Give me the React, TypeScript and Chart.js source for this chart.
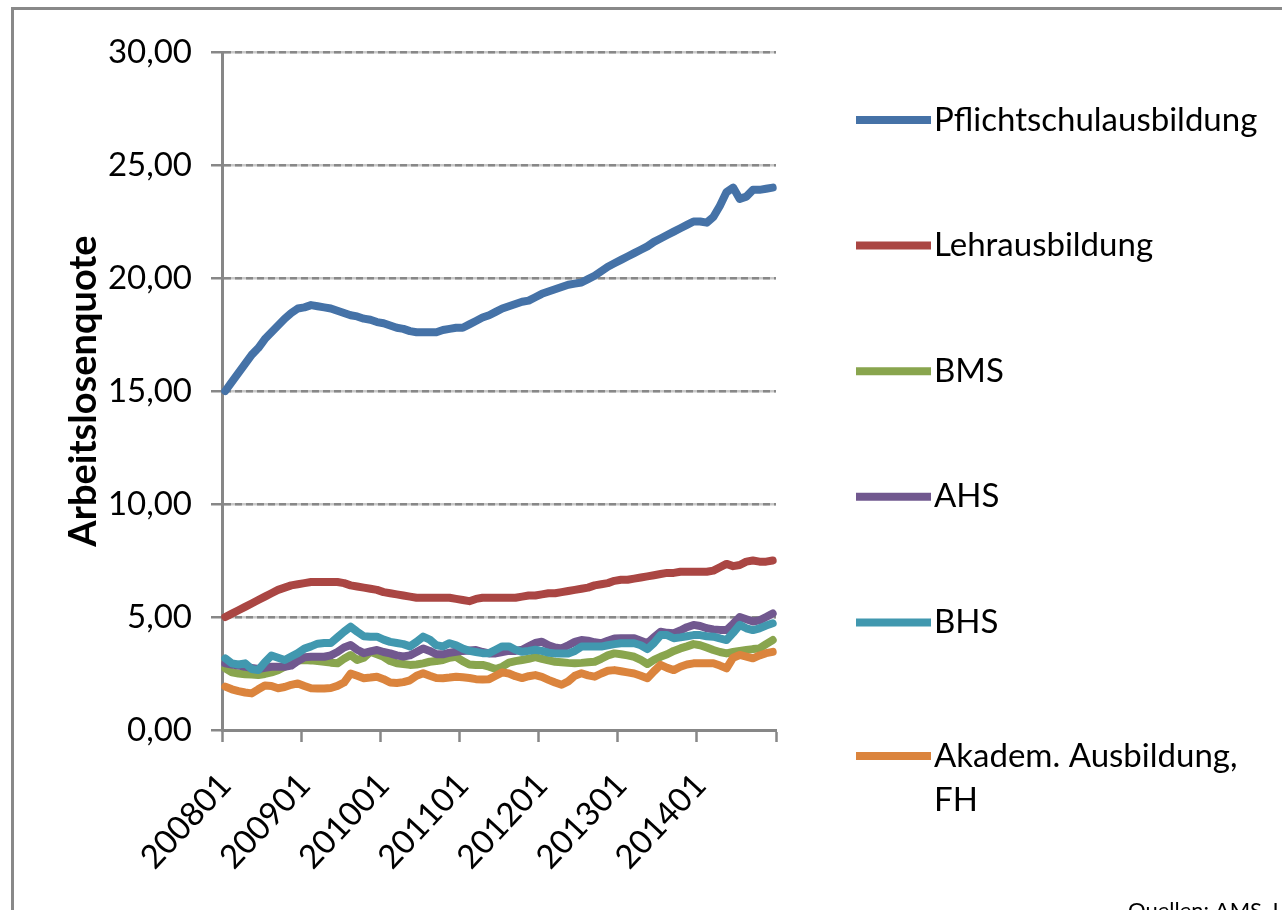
import React, { useEffect, useRef } from "react";
import { Chart, registerables } from "chart.js";

Chart.register(...registerables);

const YEARS = ["2008", "2009", "2010", "2011", "2012", "2013", "2014"];
const MONTHS_OF_YEAR = ["01", "02", "03", "04", "05", "06", "07", "08", "09", "10", "11", "12"];
const CATEGORIES: string[] = YEARS.flatMap((y) => MONTHS_OF_YEAR.map((m) => y + m));
const TICK_LABELS = ["200801", "200901", "201001", "201101", "201201", "201301", "201401"];

const PFLICHTSCHUL = [
  15.0, 15.4, 15.8, 16.2, 16.6, 16.9, 17.3, 17.6, 17.9, 18.2, 18.45, 18.65,
  18.7, 18.8, 18.75, 18.7, 18.65, 18.55, 18.45, 18.35, 18.3, 18.2, 18.15, 18.05,
  18.0, 17.9, 17.8, 17.75, 17.65, 17.6, 17.6, 17.6, 17.6, 17.7, 17.75, 17.8,
  17.8, 17.95, 18.1, 18.25, 18.35, 18.5, 18.65, 18.75, 18.85, 18.95, 19.0, 19.15,
  19.3, 19.4, 19.5, 19.6, 19.7, 19.75, 19.8, 19.95, 20.1, 20.3, 20.5, 20.65,
  20.8, 20.95, 21.1, 21.25, 21.4, 21.6, 21.75, 21.9, 22.05, 22.2, 22.35, 22.5,
  22.5, 22.45, 22.7, 23.2, 23.8, 24.0, 23.5, 23.6, 23.9, 23.9, 23.95, 24.0,
];
const LEHR = [
  5.0, 5.15, 5.3, 5.45, 5.6, 5.75, 5.9, 6.05, 6.2, 6.3, 6.4, 6.45,
  6.5, 6.55, 6.55, 6.55, 6.55, 6.55, 6.5, 6.4, 6.35, 6.3, 6.25, 6.2,
  6.1, 6.05, 6.0, 5.95, 5.9, 5.85, 5.85, 5.85, 5.85, 5.85, 5.85, 5.8,
  5.75, 5.7, 5.8, 5.85, 5.85, 5.85, 5.85, 5.85, 5.85, 5.9, 5.95, 5.95,
  6.0, 6.05, 6.05, 6.1, 6.15, 6.2, 6.25, 6.3, 6.4, 6.45, 6.5, 6.6,
  6.65, 6.65, 6.7, 6.75, 6.8, 6.85, 6.9, 6.95, 6.95, 7.0, 7.0, 7.0,
  7.0, 7.0, 7.05, 7.2, 7.35, 7.25, 7.3, 7.45, 7.5, 7.45, 7.45, 7.5,
];
const BMS = [
  2.73, 2.55, 2.5, 2.47, 2.45, 2.43, 2.48, 2.55, 2.65, 2.8, 2.95, 3.08,
  3.1, 3.08, 3.05, 3.02, 2.98, 2.95, 3.15, 3.32, 3.1, 3.2, 3.46, 3.35,
  3.24, 3.05, 2.95, 2.92, 2.88, 2.9, 2.95, 3.02, 3.05, 3.1, 3.2, 3.24,
  3.05, 2.9, 2.88, 2.88, 2.8, 2.7, 2.8, 2.98, 3.05, 3.1, 3.15, 3.22,
  3.15, 3.08, 3.02, 3.0, 2.97, 2.95, 2.97, 3.0, 3.02, 3.15, 3.3, 3.39,
  3.35, 3.3, 3.24, 3.1, 2.92, 3.1, 3.24, 3.35, 3.5, 3.61, 3.7, 3.8,
  3.75, 3.65, 3.54, 3.45, 3.39, 3.45, 3.5, 3.54, 3.58, 3.61, 3.8, 3.98,
];
const AHS = [
  2.95, 2.9, 2.85, 2.8, 2.75, 2.7, 2.75, 2.8, 2.8, 2.8, 2.85, 3.05,
  3.22, 3.24, 3.24, 3.24, 3.3, 3.45, 3.65, 3.76, 3.55, 3.4, 3.48, 3.54,
  3.45, 3.39, 3.3, 3.25, 3.3, 3.45, 3.61, 3.5, 3.35, 3.35, 3.42, 3.46,
  3.5, 3.52, 3.54, 3.45, 3.39, 3.39, 3.45, 3.5, 3.5, 3.55, 3.7, 3.85,
  3.91, 3.75, 3.65, 3.61, 3.75, 3.9, 3.98, 3.95, 3.88, 3.84, 3.95, 4.05,
  4.06, 4.06, 4.06, 3.95, 3.84, 4.1, 4.35, 4.3, 4.28, 4.4, 4.55, 4.65,
  4.6, 4.5, 4.45, 4.43, 4.42, 4.7, 5.0, 4.9, 4.8, 4.85, 5.0, 5.16,
];
const BHS = [
  3.17, 2.95, 2.9, 2.95, 2.7, 2.65, 3.0, 3.3, 3.2, 3.1, 3.25, 3.4,
  3.6, 3.7, 3.82, 3.85, 3.85, 4.1, 4.35, 4.57, 4.35, 4.15, 4.13, 4.13,
  4.0, 3.9, 3.85, 3.8, 3.7, 3.9, 4.13, 4.0, 3.75, 3.7, 3.84, 3.75,
  3.6, 3.5, 3.45, 3.4, 3.4, 3.55, 3.7, 3.7, 3.55, 3.46, 3.5, 3.55,
  3.5, 3.42, 3.39, 3.39, 3.39, 3.5, 3.69, 3.69, 3.69, 3.69, 3.75, 3.8,
  3.84, 3.84, 3.84, 3.75, 3.58, 3.85, 4.2, 4.2, 4.06, 4.1, 4.15, 4.2,
  4.2, 4.15, 4.13, 4.05, 3.98, 4.3, 4.65, 4.5, 4.42, 4.5, 4.62, 4.72,
];
const AKADEM = [
  1.92, 1.8, 1.72, 1.66, 1.62, 1.8, 1.97, 1.95, 1.85, 1.9, 2.0, 2.06,
  1.95, 1.85, 1.84, 1.84, 1.86, 1.95, 2.1, 2.5, 2.4, 2.29, 2.32, 2.36,
  2.25, 2.1, 2.08, 2.12, 2.2, 2.4, 2.51, 2.4, 2.3, 2.29, 2.32, 2.36,
  2.33, 2.3, 2.25, 2.23, 2.25, 2.4, 2.55, 2.5, 2.38, 2.3, 2.38, 2.43,
  2.35, 2.22, 2.1, 2.0, 2.15, 2.4, 2.51, 2.42, 2.36, 2.5, 2.62, 2.65,
  2.6, 2.55, 2.5, 2.4, 2.29, 2.6, 2.88, 2.75, 2.65, 2.8, 2.9, 2.95,
  2.95, 2.95, 2.95, 2.85, 2.73, 3.2, 3.32, 3.25, 3.17, 3.3, 3.4, 3.46,
];

const SERIES_NAMES = [
  "Pflichtschulausbildung",
  "Lehrausbildung",
  "BMS",
  "AHS",
  "BHS",
  "Akadem. Ausbildung, FH",
];
const SERIES_LEGEND_LINES = [
  ["Pflichtschulausbildung"],
  ["Lehrausbildung"],
  ["BMS"],
  ["AHS"],
  ["BHS"],
  ["Akadem. Ausbildung,", "FH"],
];
const SERIES_DATA = [PFLICHTSCHUL, LEHR, BMS, AHS, BHS, AKADEM];
const SERIES_COLORS = ["#4572A7", "#AA4643", "#89A54E", "#71588F", "#4198AF", "#DB843D"];

const Y_MIN = 0;
const Y_MAX = 30;
const Y_STEP = 5;

const AXIS_COLOR = "#878787";
const FONT = "Lato";

const legendPlugin = {
  id: "customLegend",
  afterDraw(chart: any) {
    const ctx = chart.ctx as CanvasRenderingContext2D;
    const top = 120;
    const gap = 125.6;
    ctx.save();
    ctx.font = `33px ${FONT}`;
    ctx.textBaseline = "middle";
    ctx.textAlign = "left";
    chart.data.datasets.forEach((ds: any, i: number) => {
      const y = top + gap * i + (i === 5 ? 8 : 0);
      ctx.strokeStyle = ds.borderColor;
      ctx.lineWidth = 8;
      ctx.lineCap = "butt";
      ctx.beginPath();
      ctx.moveTo(856, y);
      ctx.lineTo(931, y);
      ctx.stroke();
      ctx.fillStyle = "#000";
      SERIES_LEGEND_LINES[i].forEach((line, k) => {
        ctx.fillText(line, 934, y + k * 44);
      });
    });
    ctx.restore();
  },
};

const framePlugin = {
  id: "frame",
  beforeDraw(chart: any) {
    const ctx = chart.ctx as CanvasRenderingContext2D;
    ctx.save();
    ctx.fillStyle = "#ffffff";
    ctx.fillRect(0, 0, chart.width, chart.height);
    ctx.restore();
  },
  afterDraw(chart: any) {
    const ctx = chart.ctx as CanvasRenderingContext2D;
    ctx.save();
    ctx.strokeStyle = "#898989";
    ctx.lineWidth = 3;
    ctx.beginPath();
    ctx.moveTo(12.5, chart.height + 10);
    ctx.lineTo(12.5, 8.5);
    ctx.lineTo(chart.width + 10, 8.5);
    ctx.stroke();
    ctx.fillStyle = "#000";
    ctx.font = `22px ${FONT}`;
    ctx.textBaseline = "top";
    ctx.fillText("Quellen: AMS, I", 1128, 900);
    ctx.restore();
  },
};

export default function App() {
  const ref = useRef<HTMLCanvasElement>(null);
  useEffect(() => {
    if (!ref.current) return;
    const chart = new Chart(ref.current, {
      type: "line",
      data: {
        labels: CATEGORIES,
        datasets: SERIES_DATA.map((d, i) => ({
          label: SERIES_NAMES[i],
          data: d,
          borderColor: SERIES_COLORS[i],
          backgroundColor: SERIES_COLORS[i],
          borderWidth: 8,
          pointRadius: 0,
          pointHoverRadius: 0,
          tension: 0,
          fill: false,
          borderJoinStyle: "round",
          borderCapStyle: "round",
          order: SERIES_DATA.length - i,
        })),
      },
      options: {
        responsive: false,
        animation: false,
        events: [],
        layout: { padding: { left: 0, right: 506, top: 52, bottom: 0 } },
        plugins: {
          legend: { display: false },
          tooltip: { enabled: false },
          title: { display: false },
        },
        scales: {
          x: {
            type: "category",
            offset: true,
            grid: {
              offset: true,
              drawOnChartArea: false,
              drawTicks: true,
              tickLength: 12,
              tickWidth: 2.5,
              tickColor: (c: any) =>
                c.index === undefined || c.index % 12 === 0 ? AXIS_COLOR : "rgba(0,0,0,0)",
            },
            border: { display: true, color: AXIS_COLOR, width: 3 },
            ticks: {
              autoSkip: false,
              maxRotation: 47,
              minRotation: 47,
              padding: 24,
              color: "#000",
              font: { family: FONT, size: 33 },
              callback: (_v: any, i: number) => {
                const lbl = CATEGORIES[i];
                return TICK_LABELS.includes(lbl) ? lbl : "";
              },
            },
            afterFit: (s: any) => {
              s.height = 180;
            },
          },
          y2: {
            position: "left",
            min: Y_MIN,
            max: Y_MAX,
            z: -1,
            ticks: { display: false, stepSize: Y_STEP },
            grid: { color: "#c9c9c9", lineWidth: 2.5, drawTicks: false },
            border: { display: false },
            afterFit: (s: any) => {
              s.width = 0;
            },
          },
          y: {
            position: "left",
            min: Y_MIN,
            max: Y_MAX,
            ticks: {
              stepSize: Y_STEP,
              padding: 19,
              color: "#000",
              font: { family: FONT, size: 33 },
              callback: (v: any) => Number(v).toFixed(2).replace(".", ","),
            },
            grid: {
              color: "#888888",
              lineWidth: 2.5,
              tickLength: 11,
              tickColor: AXIS_COLOR,
              tickWidth: 2.5,
              tickBorderDash: [],
            },
            border: { display: true, color: AXIS_COLOR, width: 3, dash: [7, 4] },
            title: {
              display: true,
              text: "Arbeitslosenquote",
              color: "#000",
              font: { family: FONT, size: 38, weight: "bold" },
              padding: { top: 61, bottom: 0 },
            },
            afterFit: (s: any) => {
              s.width = 222;
            },
          },
        },
      },
      plugins: [framePlugin, legendPlugin],
    } as any);
    return () => chart.destroy();
  }, []);
  return (
    <canvas
      ref={ref}
      width={1282}
      height={910}
      style={{ position: "absolute", left: 0, top: 0, width: 1282, height: 910, display: "block" }}
    />
  );
}
